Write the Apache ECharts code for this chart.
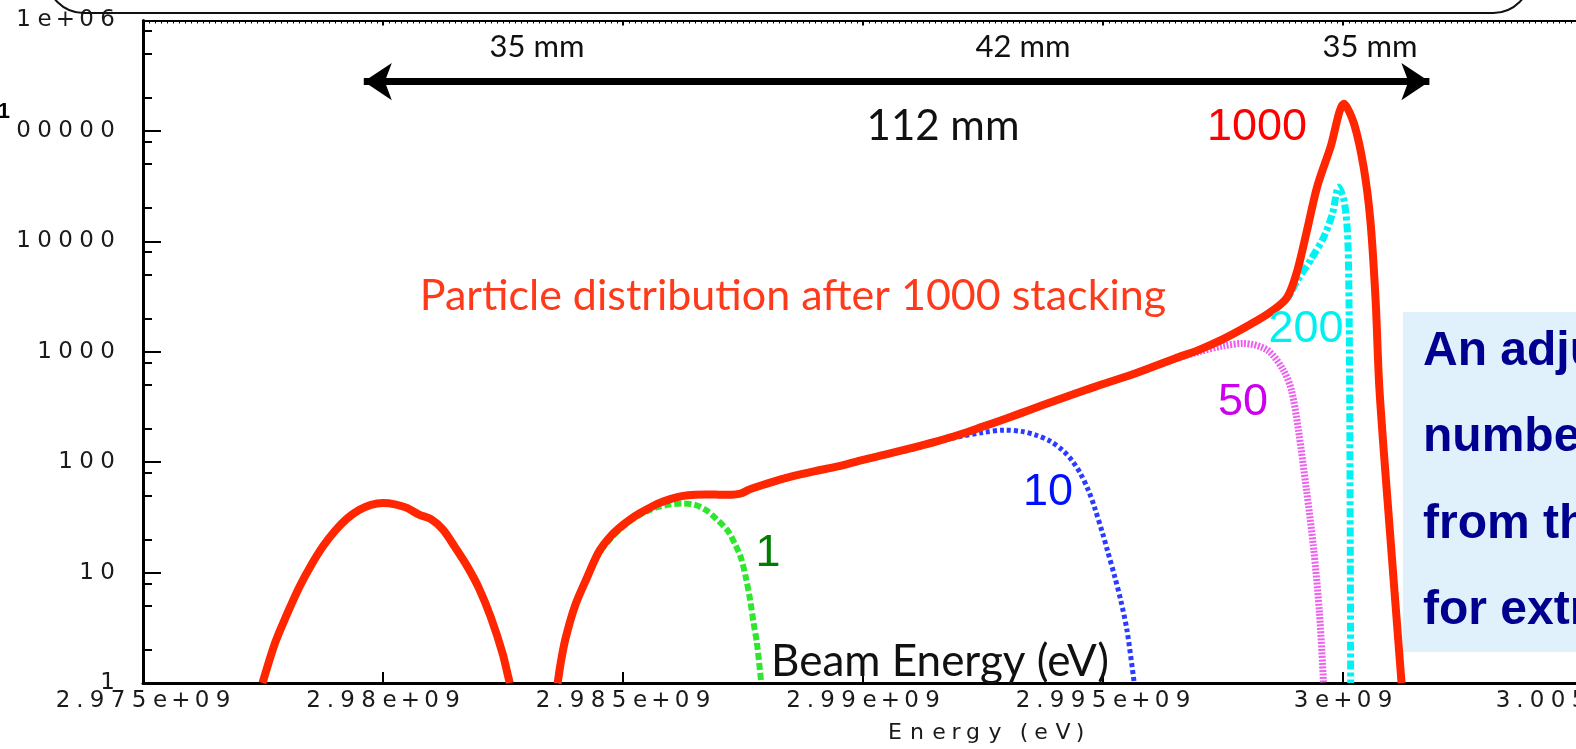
<!DOCTYPE html>
<html><head><meta charset="utf-8">
<script src="https://cdn.jsdelivr.net/npm/echarts@6/dist/echarts.min.js"></script>
<style>html,body{margin:0;padding:0;background:#fff}#c{width:1576px;height:749px}</style>
</head><body><div id="c"></div>
<script>
// ---------- axes ----------
const xTicks = [2975e6, 2980e6, 2985e6, 2990e6, 2995e6, 3000e6, 3005e6];
const xTickLabels = ['2.975e+09', '2.98e+09', '2.985e+09', '2.99e+09', '2.995e+09', '3e+09', '3.005e+09'];
const yTicks = [1, 10, 100, 1000, 10000, 100000, 1000000];
const yTickLabels = ['1', '10', '100', '1000', '10000', '100000', '1e+06'];
const yMinorTicks = [2, 5, 8, 20, 50, 80, 200, 500, 800, 2000, 5000, 8000, 20000, 50000, 80000, 200000, 500000, 800000];

// ---------- data (energy in eV, particle count) ----------
const bumpEnergy = [2977490000, 2977750000, 2978000000, 2978250000, 2978500000, 2978750000, 2979000000, 2979250000, 2979500000, 2979750000, 2980000000, 2980250000, 2980500000, 2980750000, 2981000000, 2981250000, 2981500000, 2981750000, 2982000000, 2982250000, 2982500000, 2982640000];
const bumpCount  = [1, 2.3, 4.2, 7.3, 11.6, 17.3, 23.9, 30.8, 36.9, 41.1, 42.6, 41.5, 38.5, 33.5, 30.5, 24.5, 17.0, 11.5, 7.2, 3.9, 1.8, 1];

const energy1000 = [2983640000, 2983700000, 2983800000, 2984000000, 2984250000, 2984500000, 2984750000, 2985000000, 2985250000, 2985500000, 2985750000, 2986000000, 2986250000, 2986500000, 2986750000, 2987000000, 2987250000, 2987450000, 2987650000, 2988000000, 2988500000, 2989000000, 2989500000, 2990000000, 2990500000, 2991000000, 2991500000, 2992000000, 2992500000, 2993000000, 2993500000, 2994000000, 2994500000, 2995000000, 2995500000, 2996000000, 2996500000, 2997000000, 2997500000, 2998000000, 2998500000, 2998840000, 2999050000, 2999250000, 2999460000, 2999740000, 3000020000, 3000230000, 3000430000, 3000570000, 3000680000, 3000760000, 3000990000, 3001220000];
const count1000  = [1, 1.5, 2.5, 5.0, 9.0, 15.5, 21.5, 27, 32.5, 37.5, 42.5, 46.5, 49.5, 50.8, 51, 50.8, 50.6, 52, 57, 64, 74, 83, 92, 105, 118, 134, 153, 177, 210, 250, 300, 360, 430, 510, 600, 720, 870, 1040, 1300, 1700, 2300, 3130, 5470, 12580, 31000, 71300, 176000, 116000, 47000, 15500, 2900, 450, 20, 1];

const energy200 = [2983640000, 2983700000, 2983800000, 2984000000, 2984250000, 2984500000, 2984750000, 2985000000, 2985250000, 2985500000, 2985750000, 2986000000, 2986250000, 2986500000, 2986750000, 2987000000, 2987250000, 2987450000, 2987650000, 2988000000, 2988500000, 2989000000, 2989500000, 2990000000, 2990500000, 2991000000, 2991500000, 2992000000, 2992500000, 2993000000, 2993500000, 2994000000, 2994500000, 2995000000, 2995500000, 2996000000, 2996500000, 2997000000, 2997500000, 2998000000, 2998500000, 2998840000, 2999050000, 2999320000, 2999600000, 2999780000, 2999910000, 3000020000, 3000090000, 3000120000, 3000140000, 3000160000];
const count200  = [1, 1.5, 2.5, 5.0, 9.0, 15.5, 21.5, 27, 32.5, 37.5, 42.5, 46.5, 49.5, 50.8, 51, 50.8, 50.6, 52, 57, 64, 74, 83, 92, 105, 118, 134, 153, 177, 210, 250, 300, 360, 430, 510, 600, 720, 870, 1040, 1300, 1700, 2300, 3050, 4436, 6730, 10940, 17800, 31000, 23500, 12600, 4436, 364, 1];

const energy50 = [2983640000, 2983700000, 2983800000, 2984000000, 2984250000, 2984500000, 2984750000, 2985000000, 2985250000, 2985500000, 2985750000, 2986000000, 2986250000, 2986500000, 2986750000, 2987000000, 2987250000, 2987450000, 2987650000, 2988000000, 2988500000, 2989000000, 2989500000, 2990000000, 2990500000, 2991000000, 2991500000, 2992000000, 2992500000, 2993000000, 2993500000, 2994000000, 2994500000, 2995000000, 2995500000, 2996000000, 2996500000, 2997000000, 2997500000, 2997925000, 2998426000, 2998759000, 2998926000, 2999072000, 2999239000, 2999385000, 2999510000, 2999594000];
const count50  = [1, 1.5, 2.5, 5.0, 9.0, 15.5, 21.5, 27, 32.5, 37.5, 42.5, 46.5, 49.5, 50.8, 51, 50.8, 50.6, 52, 57, 64, 74, 83, 92, 105, 118, 134, 153, 177, 210, 250, 300, 360, 430, 510, 600, 720, 860, 1000, 1130, 1190, 1032, 680, 448, 195, 55.8, 17.0, 4.3, 1];

const energy10 = [2983640000, 2983700000, 2983800000, 2984000000, 2984250000, 2984500000, 2984750000, 2985000000, 2985250000, 2985500000, 2985750000, 2986000000, 2986250000, 2986500000, 2986750000, 2987000000, 2987250000, 2987450000, 2987650000, 2988000000, 2988500000, 2989000000, 2989500000, 2990000000, 2990500000, 2991000000, 2991500000, 2992000000, 2992500000, 2992950000, 2993300000, 2993600000, 2993900000, 2994160000, 2994350000, 2994530000, 2994700000, 2994820000, 2995000000, 2995090000, 2995250000, 2995370000, 2995500000, 2995650000];
const count10  = [1, 1.5, 2.5, 5.0, 9.0, 15.5, 21.5, 27, 32.5, 37.5, 42.5, 46.5, 49.5, 50.8, 51, 50.8, 50.6, 52, 57, 64, 74, 83, 92, 105, 118, 130, 150, 170, 186, 195, 190, 176, 155, 128, 104, 79, 55, 39.4, 22, 16, 9, 5.6, 3, 1];

const energy1 = [2983640000, 2983700000, 2983800000, 2984000000, 2984250000, 2984500000, 2984750000, 2985000000, 2985250000, 2985500000, 2985750000, 2986000000, 2986250000, 2986500000, 2986720000, 2986950000, 2987180000, 2987350000, 2987460000, 2987560000, 2987650000, 2987720000, 2987790000, 2987880000];
const count1  = [1, 1.5, 2.5, 5.0, 9.0, 14.9, 20.5, 26, 31.5, 36, 39.5, 41.5, 42.3, 41, 37, 30.5, 24, 17.5, 13.5, 9, 5.6, 3.5, 2.3, 1];

// arrow annotation (energy span, level)
const arrowEnergy = [2979600000, 3001800000];
const arrowLevel = 280000;

// ---------- helpers ----------
function pairs(xs, ys) { return xs.map((x, i) => [x, ys[i]]); }
function spaced(s, narrow) {
  return s.split('').map(ch => (narrow.indexOf(ch) >= 0 ? '{p|' : '{d|') + ch + '}').join('');
}
const tickFont = 'DejaVu Sans';
const tickRich = {
  d: { width: 21, align: 'center', fontSize: 23, lineHeight: 26, fontWeight: 'normal', fontFamily: tickFont, color: '#1a1a1a' },
  p: { width: 13, align: 'center', fontSize: 23, lineHeight: 26, fontWeight: 'normal', fontFamily: tickFont, color: '#1a1a1a' },
  one: { align: 'center', fontSize: 22, fontWeight: 'bold', fontFamily: 'Liberation Sans', color: '#000', verticalAlign: 'top', padding: [0, 3, 38, 0] }
};
const nameRich = {
  d: { width: 22, align: 'center', fontSize: 22, lineHeight: 26, fontWeight: 'normal', fontFamily: tickFont, color: '#1a1a1a' },
  p: { width: 12, align: 'center', fontSize: 22, lineHeight: 26, fontWeight: 'normal', fontFamily: tickFont, color: '#1a1a1a' }
};

const chart = echarts.init(document.getElementById('c'), null, { renderer: 'canvas' });

function lineSeries(name, xs, ys, color, width, dash, z) {
  return {
    type: 'line', name: name, data: pairs(xs, ys), symbol: 'none', showSymbol: false,
    smooth: 0.3, z: z, silent: true, animation: false,
    lineStyle: { color: color, width: width, type: dash, cap: 'butt', join: 'round' }
  };
}

const redMain = lineSeries('1000', energy1000, count1000, '#ff2600', 8, 'solid', 10);
redMain.markLine = {
  silent: true, animation: false, symbol: ['arrow', 'arrow'], symbolSize: 28,
  label: { show: false },
  lineStyle: { color: '#000', width: 7, type: 'solid' },
  data: [[{ coord: [arrowEnergy[0], arrowLevel] }, { coord: [arrowEnergy[1], arrowLevel] }]]
};

const option = {
  animation: false,
  backgroundColor: '#fff',
  grid: { left: 143, right: -7, top: 20.5, bottom: 66, containLabel: false, outerBoundsMode: 'none' },
  xAxis: [{
    type: 'value', min: 2975e6, max: 3005e6, interval: 5e6, position: 'bottom',
    axisLine: { show: true, onZero: false, lineStyle: { color: '#000', width: 3 } },
    axisTick: { show: true, inside: true, length: 11, lineStyle: { color: '#000', width: 2 } },
    splitLine: { show: false },
    axisLabel: {
      margin: 5, showMinLabel: true, showMaxLabel: true, hideOverlap: false,
      fontSize: 23, fontFamily: tickFont, color: '#1a1a1a',
      formatter: function (v) {
        const i = xTicks.findIndex(t => Math.abs(t - v) < 10);
        return i >= 0 ? spaced(xTickLabels[i], '.') : '';
      },
      rich: tickRich
    },
    name: spaced('Energy (eV)', 'r() '), nameLocation: 'middle', nameGap: 37,
    nameTextStyle: { fontSize: 22, fontFamily: tickFont, color: '#1a1a1a', padding: [0, 0, 0, 244], rich: nameRich }
  }, {
    type: 'value', min: 2975e6, max: 3005e6, interval: 5e6, position: 'top',
    axisLine: { show: true, onZero: false, lineStyle: { color: '#000', width: 2 } },
    axisTick: { show: true, inside: true, length: 5, lineStyle: { color: '#000', width: 2 } },
    minorTick: { show: true, splitNumber: 40, length: 3, lineStyle: { color: '#000', width: 1 } },
    axisLabel: { show: false }, splitLine: { show: false }
  }],
  yAxis: [{
    type: 'log', logBase: 10, min: 1, max: 1000000, position: 'left',
    axisLine: { show: true, lineStyle: { color: '#000', width: 3 } },
    axisTick: { show: true, inside: true, length: 18, customValues: yTicks, lineStyle: { color: '#000', width: 2 } },
    splitLine: { show: false }, minorTick: { show: false },
    axisLabel: {
      margin: 25, customValues: yTicks, showMinLabel: true, showMaxLabel: true,
      fontSize: 23, fontFamily: tickFont, color: '#1a1a1a',
      formatter: function (v) {
        const i = yTicks.findIndex(t => Math.abs(t - v) / t < 1e-6);
        if (i < 0) return '';
        const s = yTickLabels[i];
        if (s === '100000') return '{one|1}' + spaced('00000', '.');
        return spaced(s, '.');
      },
      rich: tickRich
    }
  }, {
    type: 'log', logBase: 10, min: 1, max: 1000000, position: 'left', offset: 0,
    axisLine: { show: false },
    axisTick: { show: true, inside: true, length: 9, customValues: yMinorTicks, lineStyle: { color: '#000', width: 2 } },
    axisLabel: { show: false }, splitLine: { show: false }
  }],
  series: [
    lineSeries('1', energy1, count1, '#2fe62f', 6, [7, 3], 3),
    lineSeries('10', energy10, count10, '#2a3cff', 5, [4, 3], 4),
    lineSeries('50', energy50, count50, '#ee60ee', 7, [2, 1.5], 5),
    lineSeries('200', energy200, count200, '#00f2f2', 7, [9, 3, 4, 3], 6),
    lineSeries('1000 bump', bumpEnergy, bumpCount, '#ff2600', 8, 'solid', 10),
    redMain
  ],
  graphic: [
    { type: 'rect', z: 100, shape: { x: 47, y: -60, width: 1483, height: 73, r: 40 }, style: { fill: 'none', stroke: '#111', lineWidth: 2 } },
    { type: 'rect', z: 1, shape: { x: 1403, y: 312, width: 200, height: 340 }, style: { fill: '#e1f1fc' } },
    { type: 'text', z: 101, x: 1423, y: 352, style: { text: 'An adjustable', fill: '#000090', font: 'bold 48px "Liberation Sans"', textAlign: 'left', textVerticalAlign: 'middle' } },
    { type: 'text', z: 101, x: 1423, y: 438, style: { text: 'number of', fill: '#000090', font: 'bold 48px "Liberation Sans"', textAlign: 'left', textVerticalAlign: 'middle' } },
    { type: 'text', z: 101, x: 1423, y: 525, style: { text: 'from the', fill: '#000090', font: 'bold 48px "Liberation Sans"', textAlign: 'left', textVerticalAlign: 'middle' } },
    { type: 'text', z: 101, x: 1423, y: 611, style: { text: 'for extraction', fill: '#000090', font: 'bold 48px "Liberation Sans"', textAlign: 'left', textVerticalAlign: 'middle' } },
    { type: 'text', z: 101, x: 1257, y: 128, style: { text: '1000', fill: '#ff0000', font: '45px "Liberation Sans"', textAlign: 'center', textVerticalAlign: 'middle' } },
    { type: 'text', z: 101, x: 1306, y: 330, style: { text: '200', fill: '#00f0f0', font: '45px "Liberation Sans"', textAlign: 'center', textVerticalAlign: 'middle' } },
    { type: 'text', z: 101, x: 1243, y: 403, style: { text: '50', fill: '#cc00ee', font: '45px "Liberation Sans"', textAlign: 'center', textVerticalAlign: 'middle' } },
    { type: 'text', z: 101, x: 1048, y: 493, style: { text: '10', fill: '#0010ff', font: '45px "Liberation Sans"', textAlign: 'center', textVerticalAlign: 'middle' } },
    { type: 'text', z: 101, x: 768, y: 554, style: { text: '1', fill: '#007d00', font: '45px "Liberation Sans"', textAlign: 'center', textVerticalAlign: 'middle' } },
    { type: 'text', z: 101, x: 940, y: 662, style: { text: 'Beam Energy (eV)', fill: '#111', font: '44px Lato', textAlign: 'center', textVerticalAlign: 'middle' } },
    { type: 'text', z: 101, x: 793, y: 296, style: { text: 'Particle distribution after 1000 stacking', fill: '#ff3a1a', font: '43px Lato', textAlign: 'center', textVerticalAlign: 'middle' } },
    { type: 'text', z: 101, x: 943, y: 126, style: { text: '112 mm', fill: '#111', font: '42px Lato', textAlign: 'center', textVerticalAlign: 'middle' } },
    { type: 'text', z: 101, x: 537, y: 47, style: { text: '35 mm', fill: '#111', font: '31px Lato', textAlign: 'center', textVerticalAlign: 'middle' } },
    { type: 'text', z: 101, x: 1023, y: 47, style: { text: '42 mm', fill: '#111', font: '31px Lato', textAlign: 'center', textVerticalAlign: 'middle' } },
    { type: 'text', z: 101, x: 1370, y: 47, style: { text: '35 mm', fill: '#111', font: '31px Lato', textAlign: 'center', textVerticalAlign: 'middle' } }
  ]
};
chart.setOption(option);
</script>
</body></html>
